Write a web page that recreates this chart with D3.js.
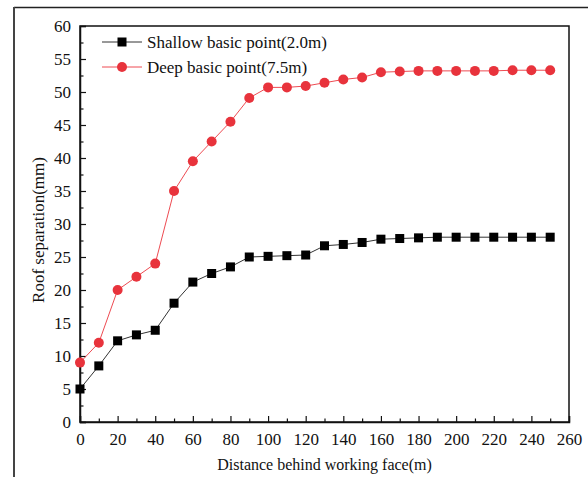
<!DOCTYPE html>
<html>
<head>
<meta charset="utf-8">
<script src="https://cdn.jsdelivr.net/npm/d3@7"></script>
<style>
  body { margin: 0; background: #fff; }
  svg text { font-family: "Liberation Serif", "Times New Roman", "DejaVu Serif", serif !important; fill: #111; }
</style>
</head>
<body>
<svg id="chart" width="588" height="477" font-family="Liberation Serif"></svg>
<script>
const distance = [0, 10, 20, 30, 40, 50, 60, 70, 80, 90, 100, 110, 120, 130, 140, 150, 160, 170, 180, 190, 200, 210, 220, 230, 240, 250];
const shallow = [5.0, 8.5, 12.3, 13.2, 13.9, 18.0, 21.2, 22.5, 23.5, 25.0, 25.1, 25.2, 25.3, 26.7, 26.9, 27.2, 27.7, 27.8, 27.9, 28.0, 28.0, 28.0, 28.0, 28.0, 28.0, 28.0];
const deep = [9.0, 12.0, 20.0, 22.0, 24.0, 35.0, 39.5, 42.5, 45.5, 49.1, 50.7, 50.7, 50.9, 51.4, 51.9, 52.2, 53.0, 53.1, 53.2, 53.2, 53.2, 53.2, 53.2, 53.3, 53.3, 53.3];
const xTicks = d3.range(0, 261, 20);
const yTicks = d3.range(0, 61, 5);
const seriesNames = ["Shallow basic point(2.0m)", "Deep basic point(7.5m)"];

const svg = d3.select("#chart");
const serif = "'Liberation Serif', 'Times New Roman', serif";
const margin = {left: 80, top: 26, right: 19, bottom: 55};
const W = 588, H = 477;
const x = d3.scaleLinear().domain([0, 260]).range([margin.left, W - margin.right]);
const y = d3.scaleLinear().domain([0, 60]).range([H - margin.bottom, margin.top]);

// outer frame (top + left edges of a cropped figure box)
svg.append("line").attr("x1", 14).attr("x2", W).attr("y1", 7.5).attr("y2", 7.5)
  .attr("stroke", "#222").attr("stroke-width", 1.5);
svg.append("line").attr("x1", 14).attr("x2", 14).attr("y1", 7).attr("y2", H)
  .attr("stroke", "#444").attr("stroke-width", 2);

// plot frame
svg.append("rect")
  .attr("x", x(0)).attr("y", y(60))
  .attr("width", x(260) - x(0)).attr("height", y(0) - y(60))
  .attr("fill", "none").attr("stroke", "#111").attr("stroke-width", 1.5);

// axes with inward ticks
svg.append("g").attr("transform", `translate(0,${y(0)})`)
  .call(d3.axisBottom(x).tickValues(xTicks).tickSize(-6).tickPadding(11));
svg.append("g").attr("transform", `translate(0,${y(0)})`)
  .call(d3.axisBottom(x).tickValues(d3.range(10, 260, 20)).tickSize(-3.5).tickFormat(""))
  .call(g => g.select(".domain").remove());
svg.append("g").attr("transform", `translate(${x(0)},0)`)
  .call(d3.axisLeft(y).tickValues(yTicks).tickSize(-6).tickPadding(9));
svg.append("g").attr("transform", `translate(${x(0)},0)`)
  .call(d3.axisLeft(y).tickValues(d3.range(2.5, 60, 5)).tickSize(-3.5).tickFormat(""))
  .call(g => g.select(".domain").remove());

svg.selectAll("g").attr("font-family", serif);
svg.selectAll(".domain").attr("stroke", "#111").attr("stroke-width", 1.5);
svg.selectAll(".tick line").attr("stroke", "#111").attr("stroke-width", 1.2);
svg.selectAll(".tick text").attr("font-family", serif).attr("font-size", 17).attr("fill", "#111");

// axis titles
svg.append("text").attr("x", (x(0) + x(260)) / 2).attr("y", 470)
  .attr("text-anchor", "middle").attr("font-family", serif).attr("font-size", 16)
  .text("Distance behind working face(m)");
svg.append("text").attr("transform", "translate(44,230) rotate(-90)")
  .attr("text-anchor", "middle").attr("font-family", serif).attr("font-size", 17)
  .text("Roof separation(mm)");

// series
const line = d3.line().x((d, i) => x(distance[i])).y(d => y(d));
svg.append("path").datum(shallow).attr("d", line)
  .attr("fill", "none").attr("stroke", "#333").attr("stroke-width", 1);
svg.append("path").datum(deep).attr("d", line)
  .attr("fill", "none").attr("stroke", "#ee4b52").attr("stroke-width", 1);

const sq = 9;
svg.append("g").selectAll("rect").data(shallow).join("rect")
  .attr("x", (d, i) => x(distance[i]) - sq / 2).attr("y", d => y(d) - sq / 2)
  .attr("width", sq).attr("height", sq).attr("fill", "#000");
svg.append("g").selectAll("circle").data(deep).join("circle")
  .attr("cx", (d, i) => x(distance[i])).attr("cy", d => y(d)).attr("r", 5)
  .attr("fill", "#e8333c");

// legend
const lg = svg.append("g");
[0, 1].forEach(k => {
  const ly = 42 + k * 25;
  lg.append("line").attr("x1", 102).attr("x2", 142).attr("y1", ly).attr("y2", ly)
    .attr("stroke", k ? "#ee4b52" : "#333").attr("stroke-width", 1);
  if (k === 0) {
    lg.append("rect").attr("x", 122 - sq / 2).attr("y", ly - sq / 2)
      .attr("width", sq).attr("height", sq).attr("fill", "#000");
  } else {
    lg.append("circle").attr("cx", 122).attr("cy", ly).attr("r", 5).attr("fill", "#e8333c");
  }
  lg.append("text").attr("x", 147).attr("y", ly).attr("dy", "0.35em")
    .attr("font-family", serif).attr("font-size", 17).text(seriesNames[k]);
});
</script>
</body>
</html>
